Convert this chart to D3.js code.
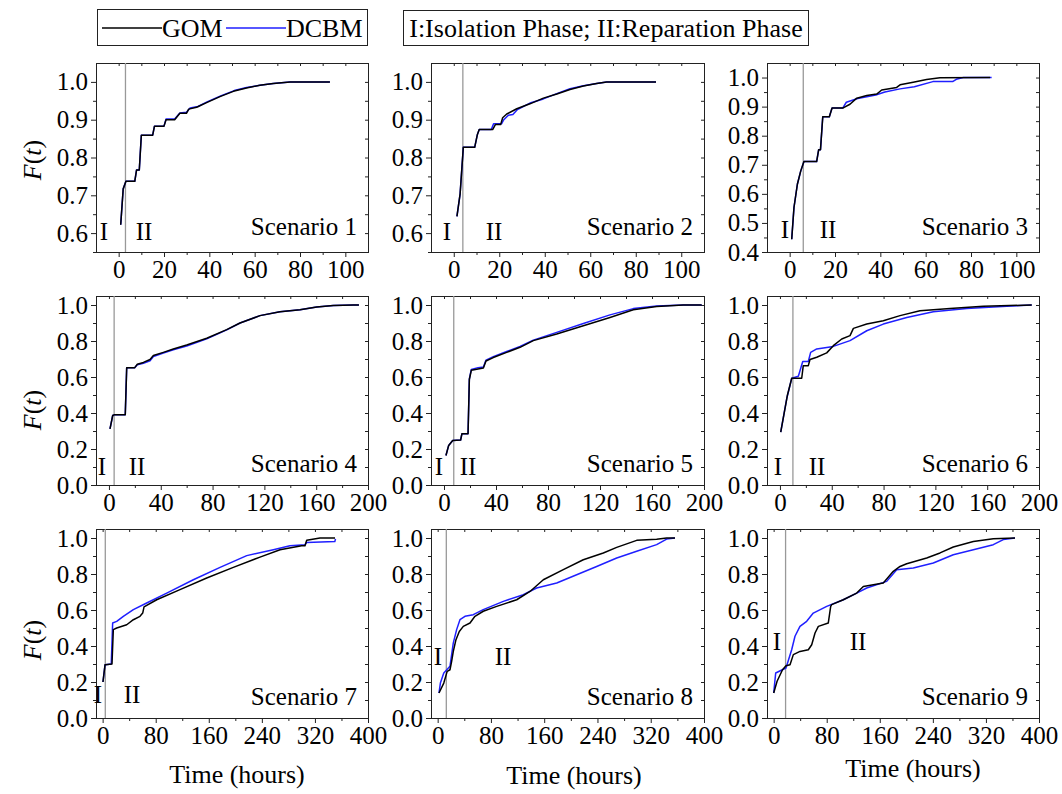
<!DOCTYPE html>
<html>
<head>
<meta charset="utf-8">
<script src="https://cdn.jsdelivr.net/npm/d3@7"></script>
<style>
  html, body { margin: 0; padding: 0; background: #fff; }
  svg text { font-family: "Liberation Serif", "Times New Roman", Tinos, "DejaVu Serif", serif; fill: #000; }
</style>
</head>
<body>
<div id="viz"></div>
<script>
// [t (hours), F(t)]
const s1Gom = [[0.9,0.622],[2.0,0.717],[3.2,0.737],[7.1,0.737],[7.9,0.767],[9.1,0.767],[10.0,0.859],[15,0.859],[15.8,0.883],[20,0.883],[20.9,0.900],[24.7,0.900],[27,0.917],[29.9,0.917],[30.9,0.928],[34.4,0.933],[38.8,0.945],[44.7,0.961],[50.6,0.975],[56.4,0.984],[62.3,0.991],[68.2,0.996],[75.6,1.0],[93.2,1.0]];
const s1Dcbm = [[0.9,0.622],[2.0,0.717],[3.2,0.737],[7.1,0.737],[7.9,0.767],[9.1,0.767],[10.0,0.859],[15,0.859],[15.8,0.883],[20,0.883],[20.9,0.902],[24.7,0.902],[27,0.918],[29.9,0.920],[31.5,0.931],[35,0.935],[39,0.947],[45,0.963],[51,0.977],[56.4,0.985],[62.3,0.991],[68.2,0.996],[75.6,1.0],[93.2,1.0]];
const s2Gom = [[1.4,0.644],[2.8,0.704],[4.2,0.827],[9.2,0.827],[10.4,0.861],[11.2,0.874],[17.1,0.874],[18.3,0.887],[20.6,0.887],[21.5,0.905],[23.3,0.915],[27.7,0.929],[33.5,0.942],[39.4,0.957],[45.3,0.968],[51.1,0.980],[57,0.989],[62.8,0.996],[67.2,1.0],[88.9,1.0]];
const s2Dcbm = [[1.4,0.644],[2.8,0.704],[4.2,0.827],[9.2,0.827],[10.4,0.861],[11.2,0.874],[16.5,0.874],[17.5,0.889],[21,0.889],[22,0.900],[24,0.912],[26,0.914],[28,0.927],[33.5,0.944],[39.4,0.955],[45.3,0.969],[51.1,0.982],[57,0.990],[62.8,0.996],[67.2,1.0],[88.9,1.0]];
const s3Gom = [[0.9,0.444],[1.9,0.553],[3.4,0.633],[4.9,0.679],[6.3,0.711],[11.9,0.711],[12.8,0.752],[13.6,0.752],[14.6,0.865],[17.5,0.865],[18.7,0.895],[23.4,0.895],[26.6,0.908],[29.6,0.929],[34,0.938],[38.4,0.943],[40.6,0.957],[47.2,0.966],[48.7,0.975],[54.5,0.984],[60.4,0.993],[66.3,0.999],[88.4,1.0]];
const s3Dcbm = [[0.9,0.444],[1.9,0.553],[3.4,0.633],[4.9,0.679],[6.3,0.711],[11.9,0.711],[12.8,0.752],[13.6,0.752],[14.6,0.865],[17.5,0.865],[18.7,0.895],[23.4,0.895],[25,0.915],[30,0.928],[38,0.940],[42,0.950],[48.7,0.961],[55,0.968],[63.2,0.986],[71.9,0.986],[73.5,0.994],[76.6,1.0],[89.1,1.0]];
const s4Gom = [[0.8,0.312],[2.9,0.386],[4,0.390],[12.6,0.390],[13.7,0.652],[19.9,0.652],[21.9,0.671],[26.6,0.681],[31.7,0.697],[34.3,0.719],[42,0.737],[49.7,0.756],[60,0.778],[75.5,0.815],[90.9,0.863],[101.2,0.900],[116.6,0.941],[132,0.963],[147.5,0.974],[160.4,0.989],[173.2,0.997],[188.7,1.0],[193,1.0]];
const s4Dcbm = [[0.8,0.312],[2.9,0.386],[4,0.390],[12.6,0.390],[13.7,0.652],[19.9,0.652],[21.9,0.668],[26.6,0.676],[31.7,0.690],[34.3,0.714],[42,0.733],[49.7,0.751],[60,0.772],[75.5,0.812],[90.9,0.862],[101.2,0.900],[116.6,0.941],[132,0.963],[147.5,0.974],[160.4,0.989],[173.2,0.997],[188.7,1.0],[193,1.0]];
const s5Gom = [[1.5,0.164],[3.6,0.220],[6.7,0.247],[12.8,0.250],[13.8,0.285],[18.5,0.285],[19.5,0.586],[21,0.637],[26.2,0.645],[30.3,0.650],[32.3,0.689],[37.9,0.708],[48.2,0.737],[58.5,0.765],[68.7,0.802],[86.7,0.839],[107.2,0.885],[127.7,0.931],[145.6,0.974],[163.6,0.992],[184,1.0],[198.2,1.0]];
const s5Dcbm = [[1.5,0.164],[3.6,0.220],[6.7,0.247],[12.8,0.250],[13.8,0.285],[18.5,0.285],[19.5,0.590],[21,0.642],[26.2,0.652],[30.3,0.655],[32.3,0.694],[37.9,0.713],[48.2,0.742],[58.5,0.770],[68.7,0.805],[86.7,0.848],[107.2,0.897],[127.7,0.945],[145.6,0.980],[163.6,0.994],[184,1.0],[198.2,1.0]];
const s6Gom = [[0.6,0.294],[5.7,0.497],[9.1,0.593],[16.8,0.593],[18,0.663],[21.9,0.663],[23.2,0.697],[28.4,0.710],[36.1,0.734],[41.2,0.774],[47.7,0.811],[54.1,0.830],[56.7,0.870],[67,0.894],[79.8,0.913],[92.7,0.941],[108.1,0.968],[131.3,0.981],[157,0.993],[194.4,1.0]];
const s6Dcbm = [[0.6,0.294],[5.2,0.479],[9.1,0.593],[14.2,0.604],[17.6,0.686],[21.9,0.686],[23.7,0.737],[28.4,0.756],[41.2,0.770],[54.1,0.802],[67,0.857],[79.8,0.894],[97.9,0.931],[118.4,0.963],[144.2,0.981],[175.1,0.993],[194.4,1.0]];
const s7Gom = [[0.5,0.200],[3.6,0.296],[4,0.296],[14.1,0.300],[16.1,0.491],[21.2,0.500],[36.3,0.518],[46.3,0.546],[56.3,0.565],[60.4,0.583],[62.4,0.617],[81.5,0.657],[116.6,0.713],[156.9,0.778],[197,0.837],[237.2,0.894],[267.4,0.935],[300,0.957],[305,0.957],[307.6,0.987],[327.7,1.0],[350.3,1.0]];
const s7Dcbm = [[0.5,0.200],[3.6,0.296],[4,0.296],[13,0.300],[15.1,0.528],[21.2,0.537],[31.2,0.565],[46.3,0.602],[66.4,0.639],[96.6,0.694],[136.7,0.768],[177,0.837],[217.2,0.902],[257.3,0.935],[282.4,0.957],[305,0.963],[307.6,0.975],[350,0.980],[351,0.995]];
const s8Gom = [[2,0.139],[9.2,0.194],[14.3,0.259],[18.5,0.268],[21,0.315],[23.5,0.370],[27.5,0.435],[32.5,0.481],[38.5,0.509],[48.6,0.528],[56,0.565],[68.5,0.593],[88.7,0.620],[118.7,0.657],[138.7,0.703],[158.7,0.768],[188.7,0.824],[218.7,0.879],[248.8,0.917],[268.9,0.948],[298.9,0.987],[328.9,0.993],[343.9,1.0],[356.4,1.0]];
const s8Dcbm = [[2,0.139],[4.1,0.194],[9.2,0.250],[18.5,0.287],[23.5,0.417],[28.5,0.491],[33.5,0.546],[41,0.565],[53.5,0.574],[68.5,0.602],[98.6,0.648],[128.6,0.685],[148.7,0.722],[178.8,0.750],[208.8,0.796],[238.8,0.842],[268.9,0.889],[298.9,0.926],[328.9,0.963],[343.9,0.994],[356.4,1.0]];
const s9Gom = [[0.1,0.139],[5.2,0.204],[13.4,0.268],[18.6,0.290],[24.7,0.296],[29.7,0.352],[39.7,0.370],[52.3,0.379],[57.4,0.407],[62.4,0.472],[67.4,0.509],[82.4,0.528],[86,0.620],[87.5,0.630],[105,0.657],[125.2,0.694],[135.2,0.731],[165.3,0.750],[180.4,0.815],[190.5,0.842],[200.6,0.857],[230.7,0.889],[250.8,0.917],[270.8,0.950],[301,0.981],[331.1,0.996],[363.8,1.0]];
const s9Dcbm = [[0.1,0.139],[3.1,0.250],[18.6,0.278],[27.2,0.379],[32.2,0.454],[39.7,0.509],[49.8,0.537],[59.8,0.583],[80,0.620],[105,0.657],[125.2,0.694],[140.3,0.722],[170.4,0.759],[185.5,0.824],[210.5,0.833],[240.7,0.861],[270.8,0.907],[301,0.935],[331.1,0.963],[346.2,0.991],[363.8,1.0]];

const scenarioNames = ['Scenario 1','Scenario 2','Scenario 3','Scenario 4','Scenario 5','Scenario 6','Scenario 7','Scenario 8','Scenario 9'];
const gomSeries = [s1Gom, s2Gom, s3Gom, s4Gom, s5Gom, s6Gom, s7Gom, s8Gom, s9Gom];
const dcbmSeries = [s1Dcbm, s2Dcbm, s3Dcbm, s4Dcbm, s5Dcbm, s6Dcbm, s7Dcbm, s8Dcbm, s9Dcbm];
// end of isolation phase (hours), one per scenario
const isolationEnd = [3, 4, 6, 4, 7.5, 10, 4, 13, 18];

// axis ranges per row
const xDomains = [[-10, 110], [-10, 200], [-10, 400]];
const xMajor = [[0, 20, 40, 60, 80, 100], [0, 40, 80, 120, 160, 200], [0, 80, 160, 240, 320, 400]];
const xStep = [10, 20, 40];
const yDomains = [[0.55, 1.05], [0.55, 1.05], [0.4, 1.05], [0, 1.05], [0, 1.05], [0, 1.05], [0, 1.05], [0, 1.05], [0, 1.05]];
const yMajor = [[0.6, 0.7, 0.8, 0.9, 1.0], [0.6, 0.7, 0.8, 0.9, 1.0], [0.4, 0.5, 0.6, 0.7, 0.8, 0.9, 1.0]];
const yMajorFull = [0, 0.2, 0.4, 0.6, 0.8, 1.0];

const W = 1062, H = 794;
const FONT = '"Liberation Serif", "Times New Roman", Tinos, "DejaVu Serif", serif';
const colLeft = [96, 431, 767];
const colWidth = [272, 273, 272];
const rowTop = [63, 296, 529];
const panelH = 189;

// where the I / II marks sit, as pixel offsets inside each panel
const phaseLabelPos = [
  [8, 48, 177], [16, 63, 177], [18, 61, 175],
  [6, 41, 179], [8, 37, 179], [11, 50, 179],
  [2, 36, 174], [7, 72, 136], [10, 91, 121]
];

const svg = d3.select('#viz').append('svg')
  .attr('width', W).attr('height', H)
  .style('font-family', FONT);

function rangeTicks(lo, hi, step) {
  const out = [];
  const n = Math.round((hi - lo) / step);
  for (let i = 0; i <= n; i++) out.push(+(lo + i * step).toFixed(4));
  return out;
}

for (let i = 0; i < 9; i++) {
  const row = Math.floor(i / 3), col = i % 3;
  const left = colLeft[col], top = rowTop[row], w = colWidth[col];
  const g = svg.append('g').attr('transform', `translate(${left},${top})`);

  const x = d3.scaleLinear().domain(xDomains[row]).range([0, w]);
  const y = d3.scaleLinear().domain(yDomains[i]).range([panelH, 0]);

  const xm = xMajor[row];
  const xMinor = rangeTicks(0, xm[xm.length - 1], xStep[row]).filter(v => xm.indexOf(v) < 0);
  const ym = row === 0 ? yMajor[col] : yMajorFull;
  const yStepMinor = row === 0 ? 0.05 : 0.1;
  const yMinor = rangeTicks(yDomains[i][0], 1.0, yStepMinor).filter(v => !ym.some(m => Math.abs(m - v) < 1e-6));
  const xAll = rangeTicks(0, xm[xm.length - 1], xStep[row]);
  const yAll = rangeTicks(yDomains[i][0], 1.0, yStepMinor);

  // bottom axis
  g.append('g').attr('class', 'ax').attr('transform', `translate(0,${panelH})`)
    .call(d3.axisBottom(x).tickValues(xm).tickSize(5).tickPadding(3).tickFormat(d3.format('d')));
  g.append('g').attr('class', 'ax').attr('transform', `translate(0,${panelH})`)
    .call(d3.axisBottom(x).tickValues(xMinor).tickSize(3).tickFormat(''));
  // left axis
  g.append('g').attr('class', 'ax')
    .call(d3.axisLeft(y).tickValues(ym).tickSize(5).tickPadding(3).tickFormat(d3.format('.1f')));
  g.append('g').attr('class', 'ax')
    .call(d3.axisLeft(y).tickValues(yMinor).tickSize(3).tickFormat(''));
  // mirrored inward ticks on top and right
  g.append('g').attr('class', 'ax')
    .call(d3.axisTop(x).tickValues(xAll).tickSize(-3).tickFormat(''));
  g.append('g').attr('class', 'ax').attr('transform', `translate(${w},0)`)
    .call(d3.axisRight(y).tickValues(yAll).tickSize(-3).tickFormat(''));

  g.selectAll('.ax').attr('font-family', null);
  g.selectAll('.ax .domain').remove();
  g.selectAll('.ax line').attr('stroke', '#222').attr('stroke-width', 1);
  g.selectAll('.ax text').attr('font-size', 25).attr('fill', '#000');

  // frame
  g.append('rect').attr('x', 0.5).attr('y', 0.5).attr('width', w).attr('height', panelH)
    .attr('fill', 'none').attr('stroke', '#222').attr('stroke-width', 1);

  // isolation / reparation divider
  g.append('line')
    .attr('x1', x(isolationEnd[i])).attr('x2', x(isolationEnd[i]))
    .attr('y1', 0).attr('y2', panelH)
    .attr('stroke', '#999').attr('stroke-width', 1.3);

  const line = d3.line().x(d => x(d[0])).y(d => y(d[1]));
  g.append('path').datum(dcbmSeries[i]).attr('d', line)
    .attr('fill', 'none').attr('stroke', '#1f1fff').attr('stroke-width', 1.5).attr('stroke-linejoin', 'round');
  g.append('path').datum(gomSeries[i]).attr('d', line)
    .attr('fill', 'none').attr('stroke', '#000').attr('stroke-width', 1.5).attr('stroke-linejoin', 'round');

  // phase marks
  const p = phaseLabelPos[i];
  g.append('text').attr('x', p[0]).attr('y', p[2]).attr('font-size', 25).attr('text-anchor', 'middle').text('I');
  g.append('text').attr('x', p[1]).attr('y', p[2]).attr('font-size', 25).attr('text-anchor', 'middle').text('II');

  // scenario name
  g.append('text').attr('x', w - 11).attr('y', row === 0 ? panelH - 17 : panelH - 13)
    .attr('font-size', 25).attr('text-anchor', 'end').text(scenarioNames[i]);
}

// y axis titles
[160, 410, 640].forEach(cy => {
  const t = svg.append('text')
    .attr('transform', `translate(41,${cy}) rotate(-90)`)
    .attr('text-anchor', 'middle').attr('font-size', 26);
  t.append('tspan').attr('font-style', 'italic').text('F');
  t.append('tspan').text('(');
  t.append('tspan').attr('font-style', 'italic').text('t');
  t.append('tspan').text(')');
});

// x axis titles
[[237, 783], [574, 784], [913, 777]].forEach(p => {
  svg.append('text').attr('x', p[0]).attr('y', p[1])
    .attr('text-anchor', 'middle').attr('font-size', 26).text('Time (hours)');
});

// legend
const leg = svg.append('g');
leg.append('rect').attr('x', 97.5).attr('y', 9.5).attr('width', 270).attr('height', 36)
  .attr('fill', '#fff').attr('stroke', '#222');
leg.append('line').attr('x1', 102).attr('x2', 162).attr('y1', 28).attr('y2', 28)
  .attr('stroke', '#000').attr('stroke-width', 1.5);
leg.append('text').attr('x', 162).attr('y', 37).attr('font-size', 26).text('GOM');
leg.append('line').attr('x1', 226).attr('x2', 286).attr('y1', 28).attr('y2', 28)
  .attr('stroke', '#1f1fff').attr('stroke-width', 1.5);
leg.append('text').attr('x', 286).attr('y', 37).attr('font-size', 26).text('DCBM');

leg.append('rect').attr('x', 403.5).attr('y', 10.5).attr('width', 405).attr('height', 35)
  .attr('fill', '#fff').attr('stroke', '#222');
leg.append('text').attr('x', 606).attr('y', 37).attr('text-anchor', 'middle').attr('font-size', 26)
  .text('I:Isolation Phase; II:Reparation Phase');
</script>
</body>
</html>
